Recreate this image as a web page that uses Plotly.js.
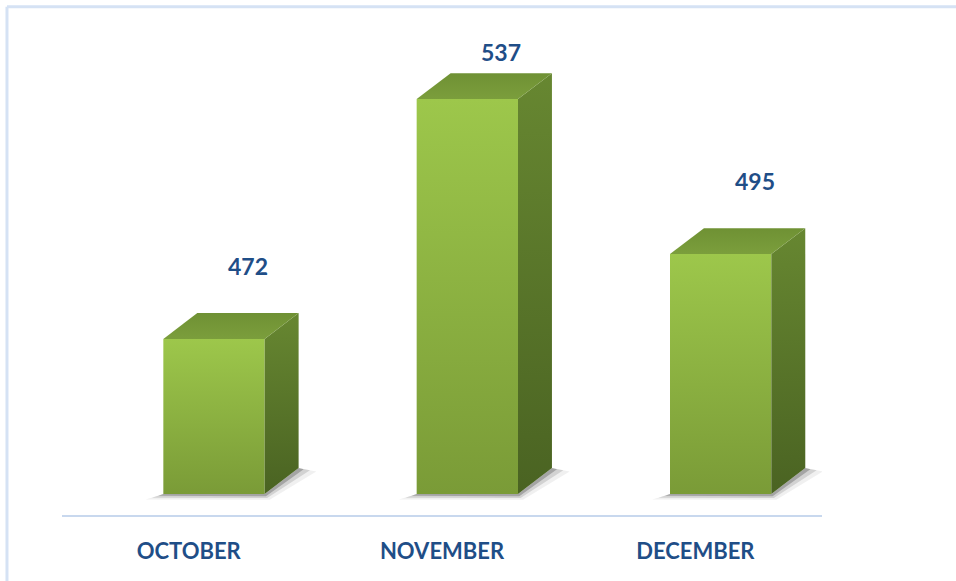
<!DOCTYPE html>
<html>
<head>
<meta charset="utf-8">
<script src="https://cdn.plot.ly/plotly-3.0.1.min.js"></script>
<style>
  html, body { margin: 0; padding: 0; background: #ffffff; }
  #chart { width: 956px; height: 581px; }
</style>
</head>
<body>
<div id="chart"></div>
<script>
// ---- data ----
const categories = ['OCTOBER', 'NOVEMBER', 'DECEMBER'];
const values = [472, 537, 495];
const valueLabels = ['472', '537', '495'];

// ---- styling / geometry constants ----
const axisMin = 424.3, axisMax = 558.4;   // y axis range
const base = 430;                          // floor of the 3D bars
const frontLeft = -0.1, frontRight = 0.3;  // front face relative to category position
const depthX = 0.134, depthY = 7.0;        // 3D depth offset (axis units)
const labelGap = 19.8;                     // label distance above value
const labelCap = axisMax - 8.7;            // keep labels inside plot

const textColor = '#1F4E87';
const fontFam = 'Lato, "Open Sans", sans-serif';
const traces = [];

values.forEach((v, i) => {
  const c = i;
  const xl = c + frontLeft, xr = c + frontRight;
  // soft shadow (layers)
  traces.push({
    type: 'scatter', mode: 'lines', fill: 'toself', hoverinfo: 'skip', showlegend: false,
    line: { width: 0 }, fillcolor: 'rgba(0,0,0,0.06)',
    x: [xl - 0.07, xr + 0.02, xr + depthX + 0.07, xr + depthX, xr, xl],
    y: [base - 1.5, base - 1.6, base + depthY - 0.9, base + depthY, base, base]
  });
  traces.push({
    type: 'scatter', mode: 'lines', fill: 'toself', hoverinfo: 'skip', showlegend: false,
    line: { width: 0 }, fillcolor: 'rgba(0,0,0,0.12)',
    x: [xl - 0.045, xr + 0.01, xr + depthX + 0.045, xr + depthX, xr, xl],
    y: [base - 1.0, base - 1.1, base + depthY - 0.6, base + depthY, base, base]
  });
  traces.push({
    type: 'scatter', mode: 'lines', fill: 'toself', hoverinfo: 'skip', showlegend: false,
    line: { width: 0 }, fillcolor: 'rgba(0,0,0,0.22)',
    x: [xl - 0.02, xr + 0.005, xr + depthX + 0.02, xr + depthX, xr, xl],
    y: [base - 0.5, base - 0.6, base + depthY - 0.3, base + depthY, base, base]
  });
  // front face
  traces.push({
    type: 'scatter', mode: 'lines', fill: 'toself', hoverinfo: 'skip', showlegend: false,
    line: { width: 0 },
    x: [xl, xr, xr, xl, xl],
    y: [base, base, v, v, base],
    fillgradient: { type: 'vertical', start: base, stop: v,
      colorscale: [[0, '#7A9B37'], [1, '#9DC74B']] }
  });
  // side face
  traces.push({
    type: 'scatter', mode: 'lines', fill: 'toself', hoverinfo: 'skip', showlegend: false,
    line: { width: 0 },
    x: [xr, xr + depthX, xr + depthX, xr, xr],
    y: [base, base + depthY, v + depthY, v, base],
    fillgradient: { type: 'vertical', start: base, stop: v + depthY,
      colorscale: [[0, '#4A6322'], [1, '#678731']] }
  });
  // top face
  traces.push({
    type: 'scatter', mode: 'lines', fill: 'toself', hoverinfo: 'skip', showlegend: false,
    line: { width: 0 },
    x: [xl, xr, xr + depthX, xl + depthX, xl],
    y: [v, v, v + depthY, v + depthY, v],
    fillgradient: { type: 'vertical', start: v, stop: v + depthY,
      colorscale: [[0, '#7B9E3C'], [1, '#6F9134']] }
  });
});

const annotations = values.map((v, i) => ({
  x: i + frontLeft + (frontRight - frontLeft) / 2 + depthX,
  y: Math.min(v + labelGap, labelCap),
  xref: 'x', yref: 'y',
  text: '<b>' + valueLabels[i] + '</b>',
  showarrow: false, xanchor: 'center', yanchor: 'middle',
  font: { family: fontFam, size: 23, color: textColor }
}));

const layout = {
  width: 956, height: 581,
  margin: { l: 62, r: 134, t: 20, b: 66, pad: 0 },
  paper_bgcolor: '#ffffff', plot_bgcolor: '#ffffff',
  showlegend: false,
  xaxis: {
    range: [-0.5, 2.5], fixedrange: true,
    tickmode: 'array', tickvals: categories.map((_, i) => i),
    ticktext: categories.map(c => '<b>' + c + '</b>'),
    tickfont: { family: fontFam, size: 22, color: textColor },
    showgrid: false, zeroline: false,
    showline: true, linecolor: '#C8D8EE', linewidth: 1.5,
    ticks: '', ticklabelstandoff: 16
  },
  yaxis: {
    range: [axisMin, axisMax], fixedrange: true,
    showgrid: false, zeroline: false, showline: false, showticklabels: false, ticks: ''
  },
  shapes: [
    { type: 'line', xref: 'paper', yref: 'paper', x0: -0.0724, x1: 1.2, y0: 1.027, y1: 1.027,
      line: { color: '#D5E2F4', width: 3 } },
    { type: 'line', xref: 'paper', yref: 'paper', x0: -0.0724, x1: -0.0724, y0: -0.2, y1: 1.027,
      line: { color: '#D5E2F4', width: 3 } }
  ],
  annotations: annotations
};

Plotly.newPlot('chart', traces, layout, { staticPlot: true, displayModeBar: false });
</script>
</body>
</html>
